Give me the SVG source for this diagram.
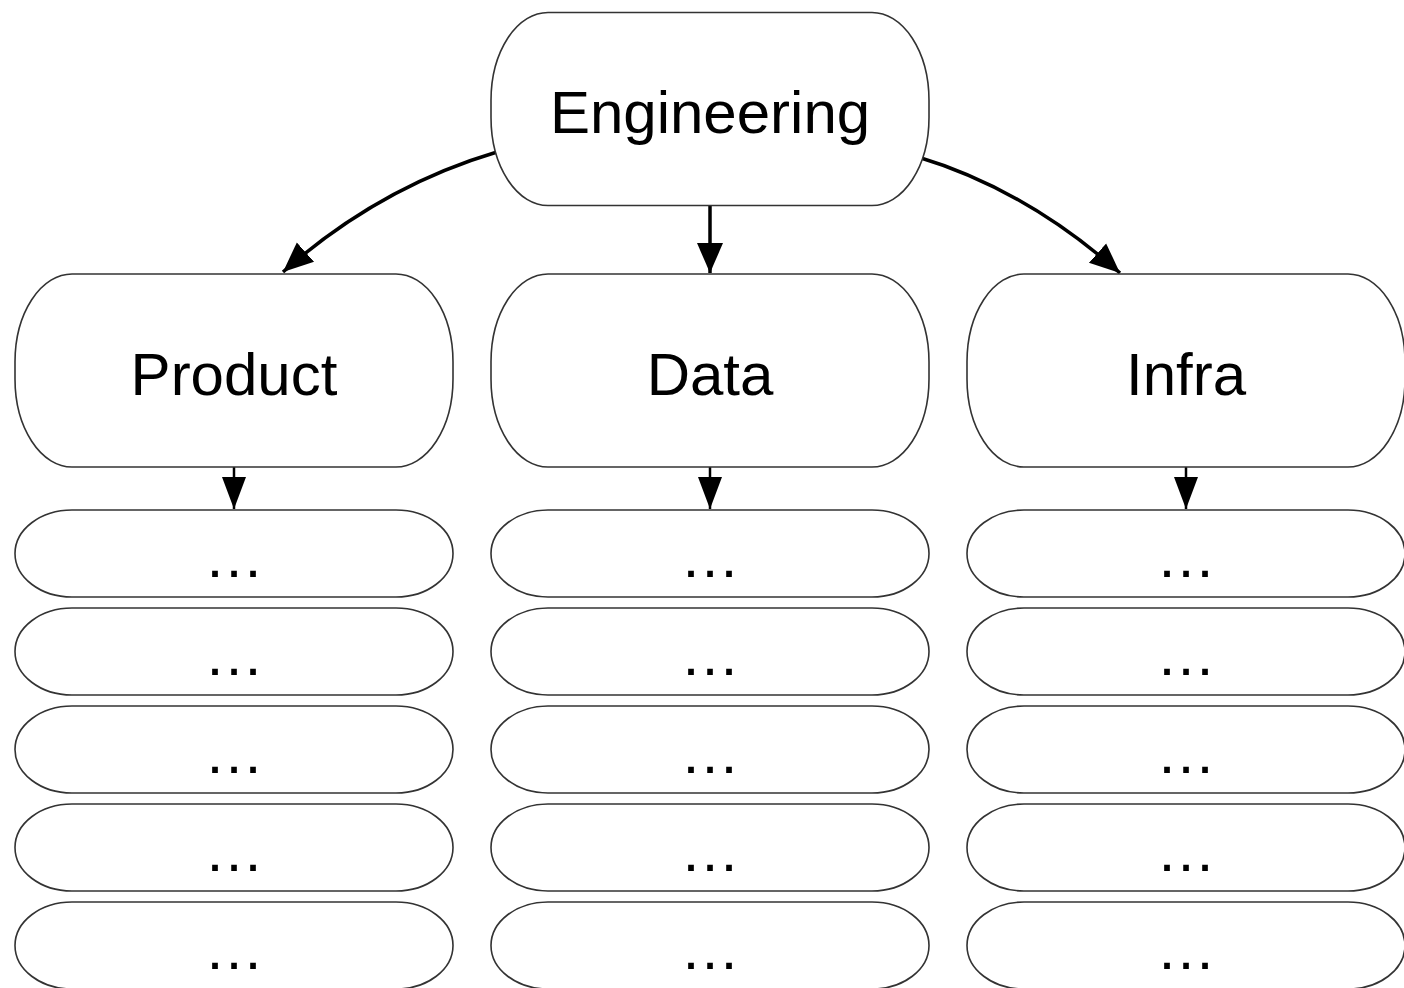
<svg xmlns="http://www.w3.org/2000/svg" width="1404" height="988" viewBox="0 0 1404 988">
<style>
.n{fill:#fff;stroke:#333;stroke-width:1.6}
.t{font-family:"Liberation Sans",Arial,sans-serif;font-size:60px;fill:#000;text-anchor:middle}
.e{fill:none;stroke:#000}
</style>
<defs>
<marker id="ah" markerUnits="userSpaceOnUse" markerWidth="32" markerHeight="28" refX="30" refY="14" orient="auto"><path d="M0,1 L30,14 L0,27 Z" fill="#000"/></marker>
<marker id="as" markerUnits="userSpaceOnUse" markerWidth="34" markerHeight="26" refX="32" refY="13" orient="auto"><path d="M0,1 L32,13 L0,25 Z" fill="#000"/></marker>
</defs>
<rect width="1404" height="988" fill="#fff"/>
<g id="connectors">
<path class="e" stroke-width="3.5" d="M497,152 Q379,187 283,272" marker-end="url(#ah)"/>
<path class="e" stroke-width="3.5" d="M918,157 Q1025,189 1120,273" marker-end="url(#ah)"/>
<path class="e" stroke-width="3.5" d="M710,205 L710,273" marker-end="url(#ah)"/>
<path class="e" stroke-width="2.5" d="M234,462 L234,509" marker-end="url(#as)"/>
<path class="e" stroke-width="2.5" d="M710,462 L710,509" marker-end="url(#as)"/>
<path class="e" stroke-width="2.5" d="M1186,462 L1186,509" marker-end="url(#as)"/>
</g>
<g id="engineering"><rect class="n" x="491" y="12.5" width="438" height="193" rx="57" ry="88"/><text class="t" x="710" y="133">Engineering</text></g>
<g id="product"><rect class="n" x="15" y="274" width="438" height="193" rx="57" ry="88"/><text class="t" x="234" y="395">Product</text></g>
<g id="data"><rect class="n" x="491" y="274" width="438" height="193" rx="57" ry="88"/><text class="t" x="710" y="395">Data</text></g>
<g id="infra"><rect class="n" x="967" y="274" width="438" height="193" rx="57" ry="88"/><text class="t" x="1186" y="395">Infra</text></g>
<g id="p1"><rect class="n" x="15" y="510" width="438" height="87" rx="57" ry="43.5"/><text class="t" x="234" y="577">…</text></g>
<g id="p2"><rect class="n" x="15" y="608" width="438" height="87" rx="57" ry="43.5"/><text class="t" x="234" y="675">…</text></g>
<g id="p3"><rect class="n" x="15" y="706" width="438" height="87" rx="57" ry="43.5"/><text class="t" x="234" y="773">…</text></g>
<g id="p4"><rect class="n" x="15" y="804" width="438" height="87" rx="57" ry="43.5"/><text class="t" x="234" y="871">…</text></g>
<g id="p5"><rect class="n" x="15" y="902" width="438" height="87" rx="57" ry="43.5"/><text class="t" x="234" y="969">…</text></g>
<g id="d1"><rect class="n" x="491" y="510" width="438" height="87" rx="57" ry="43.5"/><text class="t" x="710" y="577">…</text></g>
<g id="d2"><rect class="n" x="491" y="608" width="438" height="87" rx="57" ry="43.5"/><text class="t" x="710" y="675">…</text></g>
<g id="d3"><rect class="n" x="491" y="706" width="438" height="87" rx="57" ry="43.5"/><text class="t" x="710" y="773">…</text></g>
<g id="d4"><rect class="n" x="491" y="804" width="438" height="87" rx="57" ry="43.5"/><text class="t" x="710" y="871">…</text></g>
<g id="d5"><rect class="n" x="491" y="902" width="438" height="87" rx="57" ry="43.5"/><text class="t" x="710" y="969">…</text></g>
<g id="i1"><rect class="n" x="967" y="510" width="438" height="87" rx="57" ry="43.5"/><text class="t" x="1186" y="577">…</text></g>
<g id="i2"><rect class="n" x="967" y="608" width="438" height="87" rx="57" ry="43.5"/><text class="t" x="1186" y="675">…</text></g>
<g id="i3"><rect class="n" x="967" y="706" width="438" height="87" rx="57" ry="43.5"/><text class="t" x="1186" y="773">…</text></g>
<g id="i4"><rect class="n" x="967" y="804" width="438" height="87" rx="57" ry="43.5"/><text class="t" x="1186" y="871">…</text></g>
<g id="i5"><rect class="n" x="967" y="902" width="438" height="87" rx="57" ry="43.5"/><text class="t" x="1186" y="969">…</text></g>
</svg>
